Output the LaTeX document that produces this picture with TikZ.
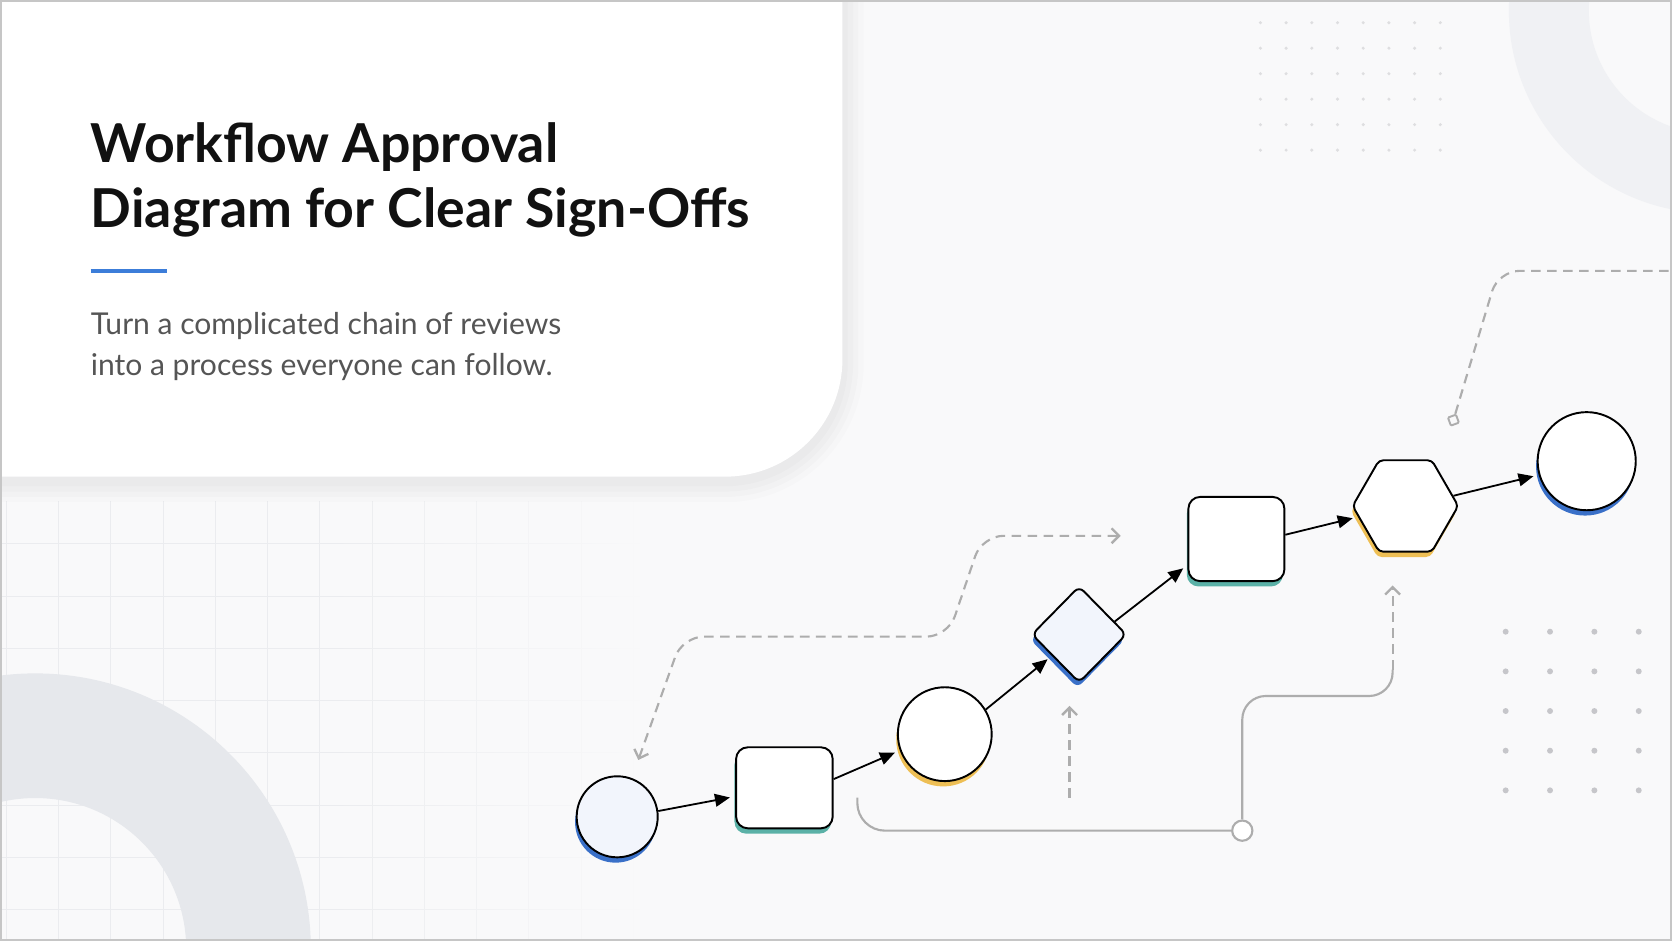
\documentclass[tikz,border=0pt]{standalone}
\usepackage{fontspec}
\setmainfont{Lato}
\usetikzlibrary{arrows.meta, shapes.geometric, shadows, fadings}

\definecolor{bgpage}{HTML}{F9F9FA}
\definecolor{ringgrey}{HTML}{E6E8EC}
\definecolor{ringfaint}{HTML}{F0F1F4}
\definecolor{gridline}{HTML}{EBECEF}
\definecolor{dotfaint}{HTML}{DEDEE0}
\definecolor{dotgrey}{HTML}{C6C6CA}
\definecolor{accblue}{HTML}{3A70C8}
\definecolor{accteal}{HTML}{5BB1A7}
\definecolor{accgold}{HTML}{EEBF55}
\definecolor{barblue}{HTML}{3C7DD9}
\definecolor{paleblue}{HTML}{F2F5FC}
\definecolor{linkgrey}{HTML}{ADADAD}
\definecolor{titleink}{HTML}{111111}
\definecolor{subgrey}{HTML}{555555}

\tikzfading[name=gridfade, left color=transparent!100, right color=transparent!0]

\def\cardpath{(-60,-60) -- (790,-60) -- (790,337) arc[start angle=0, end angle=90, radius=110] -- (-60,447) -- cycle}

\begin{document}
\begin{tikzpicture}[x=1pt, y=-1pt,
	stage/.style={draw=black, line width=1.8pt, fill=white, inner sep=0pt},
	roundstage/.style={stage, circle},
	boxstage/.style={stage, rectangle, rounded corners=11pt},
	underglow/.style={general shadow={fill=#1, shadow xshift=-1.5pt, shadow yshift=-5pt}},
	flow/.style={-{Triangle[length=14pt, width=12pt]}, line width=1.7pt, shorten >=5pt},
	backlink/.style={linkgrey, line width=2pt, dash pattern=on 9pt off 6pt},
	sideline/.style={linkgrey, line width=2pt},
	barb/.tip={Straight Barb[length=7pt, width=14pt, line width=2.2pt]}]
		% Page
		\useasboundingbox (0,0) rectangle (1568,882);
		\fill[bgpage] (0,0) rectangle (1568,882);
		
		% Grid under the card, fading out to the right
		\foreach \x in {6,55,...,594} {
			\draw[gridline, line width=1pt] (\x,470) -- (\x,882);
		}
		\foreach \y in {510,559,...,853} {
			\draw[gridline, line width=1pt] (0,\y) -- (600,\y);
		}
		\fill[bgpage, path fading=gridfade] (300,465) rectangle (601,882);
		
		% Rings
		\fill[ringgrey, even odd rule] (33,890) circle (258.5) (33,890) circle (141.6);
		\fill[ringfaint, even odd rule] (1605,10) circle (190) (1605,10) circle (115);
		
		% Card with soft shadow
		\foreach \w/\o in {40/0.012, 30/0.014, 20/0.016, 10/0.016} {
			\draw[black, opacity=\o, line width=\w, yshift=-4pt] \cardpath;
		}
		\fill[white] \cardpath;
		
		% Title and subtitle
		\node[anchor=base west, inner sep=0, text=titleink, font={\fontsize{50.3}{60}\selectfont\bfseries}] (title1) at (85,152) {Workflow Approval};
		\node[anchor=base west, inner sep=0, text=titleink, font={\fontsize{50.3}{60}\selectfont\bfseries}] (title2) at (85,213) {Diagram for Clear Sign-Offs};
		\draw[barblue, line width=4] (85,254) -- (157,254);
		\node[anchor=base west, inner sep=0, text=subgrey, font={\fontsize{28.2}{38}\selectfont}] (sub1) at (85,314) {Turn a complicated chain of reviews};
		\node[anchor=base west, inner sep=0, text=subgrey, font={\fontsize{28.2}{38}\selectfont}] (sub2) at (85,352) {into a process everyone can follow.};
		
		% Dot grids
		\foreach \x in {0,...,7} {
			\foreach \y in {0,...,5} {
				\fill[dotfaint] (1182+24.1*\x, 21.3+23.9*\y) circle (1.6);
			}
		}
		\foreach \x in {0,...,3} {
			\foreach \y in {0,...,4} {
				\fill[dotgrey] (1412+41.6*\x, 592.4+37.2*\y) circle (2.8);
			}
		}
		
		% Stages
		\node[roundstage, fill=paleblue, minimum size=76, underglow=accblue] (start) at (578.8,766) {};
		\node[boxstage, minimum width=90.6, minimum height=76, underglow=accteal] (prep) at (735.6,738.8) {};
		\node[roundstage, minimum size=88, underglow=accgold] (review) at (886,688.5) {};
		\node[stage, diamond, fill=paleblue, minimum width=89, minimum height=90.6, rounded corners=6pt, underglow=accblue] (gate) at (1012,595) {};
		\node[boxstage, minimum width=90, minimum height=79, underglow=accteal] (approve) at (1159.5,505.5) {};
		\node[stage, regular polygon, regular polygon sides=6, minimum size=99, rounded corners=4pt, underglow=accgold] (sign) at (1318,474.5) {};
		\node[roundstage, minimum size=92, underglow=accblue] (done) at (1488,432.5) {};
		
		% Flow
		\draw[flow] (start.8) -- (prep.190);
		\draw[flow] (prep.10) -- (review.200);
		\draw[flow] (review.31) -- (gate.218);
		\draw[flow] (gate.20) -- (approve.208);
		\draw[flow] (approve.5) -- (sign.193);
		\draw[flow] (sign.12) -- (done.196);
		
		% Return loop
		\coordinate (loopin) at (598.6,712.7);
		\coordinate (loopout) at (1051,502.5);
		\draw[backlink, barb-barb, rounded corners=20] (loopin) -- (640,597) -- (889,597) -- (921,502.5) -- (loopout);
		
		% Check under the gate
		\coordinate (chkfoot) at (1003,748);
		\coordinate (chktip) at (1003,662);
		\draw[backlink, -barb] (chkfoot) -- (chktip);
		
		% Side route
		\node[draw=linkgrey, fill=white, circle, line width=2pt, minimum size=19, inner sep=0] (hub) at (1165,779) {};
		\coordinate (tapfoot) at (804,748);
		\coordinate (tap) at (1306,628);
		\coordinate (taptip) at (1306,549);
		\draw[sideline, rounded corners=26] (tapfoot) -- (804,779) -- (hub);
		\draw[sideline, rounded corners=22] (hub) -- (1165,652.7) -- (1306,652.7) -- (tap);
		\draw[backlink, -barb] (tap) -- (taptip);
		
		% Top-right trail
		\node[draw=linkgrey, line width=1.8pt, minimum size=8, inner sep=0, rotate=20, rounded corners=1pt] (mark) at (1363,394) {};
		\coordinate (trailend) at (1575,254);
		\draw[backlink, rounded corners=20] (mark) -- (1405,254) -- (trailend);
		
		% Frame
		\draw[gray!45, line width=1.5] (0.75,0.75) rectangle (1567.25,881.25);
		
	\end{tikzpicture}
\end{document}
